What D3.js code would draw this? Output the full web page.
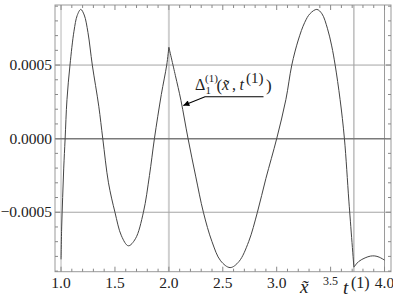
<!DOCTYPE html>
<html>
<head>
<meta charset="utf-8">
<script src="https://cdn.jsdelivr.net/npm/d3@7"></script>
<style>
  body { margin: 0; background: white; }
  svg { display: block; }
  text { font-family: "Liberation Serif", "Times New Roman", serif; fill: #222; }
</style>
</head>
<body>
<svg width="393" height="299"></svg>
<script>

// curve (x~, Delta)
var xs = [1.000, 1.006, 1.015, 1.025, 1.038, 1.055, 1.083, 1.12, 1.15, 1.183, 1.215, 1.25, 1.29, 1.35, 1.387,
  1.44, 1.50, 1.56, 1.624, 1.69, 1.764, 1.82, 1.866, 1.93, 1.98, 2.000,
  2.06, 2.112, 2.178, 2.25, 2.32, 2.40, 2.48, 2.568, 2.65, 2.74, 2.821, 2.90, 3.0, 3.085, 3.14,
  3.20, 3.26, 3.31, 3.372, 3.42, 3.47, 3.51, 3.542, 3.588, 3.628, 3.67, 3.716,
  3.76, 3.82, 3.87, 3.91, 3.95, 4.0];
var ys = [-0.00082, -0.00060, -0.00040, -0.00020, 0.0, 0.000265, 0.00050, 0.00073, 0.000837, 0.000878, 0.00084, 0.00072, 0.00050, 0.00022, 0.0,
  -0.00030, -0.00050, -0.00066, -0.000728, -0.00068, -0.00050, -0.00025, 0.0, 0.00030, 0.00050, 0.000621,
  0.00043, 0.00026, 0.0, -0.00026, -0.00050, -0.00070, -0.00083, -0.000876, -0.000835, -0.00070, -0.00050, -0.00027, 0.0, 0.000265, 0.00050,
  0.00067, 0.00079, 0.00085, 0.000878, 0.000848, 0.00075, 0.00063, 0.00050, 0.000265, 0.0, -0.00043, -0.000873,
  -0.000835, -0.00081, -0.000798, -0.000797, -0.000805, -0.000825];

// points where the curve has a corner
var cusps = [2.0, 3.716];

var xMajor = [1.0, 1.5, 2.0, 2.5, 3.0, 3.5, 4.0];
var xLabels = ["1.0", "1.5", "2.0", "2.5", "3.0", "3.5", "4.0"];
var yMajor = [-0.0005, 0.0, 0.0005];
var yLabels = ["\u22120.0005", "0.0000", "0.0005"];

var xGridLight = [1.0, 2.0];
var xGridDark = [3.716, 4.0];


var svg = d3.select("svg"),
  width = +svg.attr("width"),
  height = +svg.attr("height");

var frameL = 55, frameR = 391, frameT = 5, frameB = 271.7;

var x = d3.scaleLinear().domain([0.944, 4.06]).range([frameL, frameR]);
var y = d3.scaleLinear().domain([-0.000904, 0.000908]).range([frameB, frameT]);

// grid
svg.append("g")
  .selectAll("line")
  .data(xGridLight)
  .enter().append("line")
  .attr("x1", function (d) { return x(d); })
  .attr("x2", function (d) { return x(d); })
  .attr("y1", frameT).attr("y2", frameB)
  .style("stroke", "#cfcfcf")
  .style("stroke-width", function (d, i) { return i == 1 ? 2 : 1.5; });

svg.append("g")
  .selectAll("line")
  .data(xGridDark)
  .enter().append("line")
  .attr("x1", function (d) { return x(d); })
  .attr("x2", function (d) { return x(d); })
  .attr("y1", frameT).attr("y2", frameB)
  .style("stroke", "#9a9a9a")
  .style("stroke-width", 1);

svg.append("g")
  .selectAll("line")
  .data(yMajor)
  .enter().append("line")
  .attr("x1", frameL).attr("x2", frameR)
  .attr("y1", function (d) { return y(d); })
  .attr("y2", function (d) { return y(d); })
  .style("stroke", function (d) { return d == 0 ? "#7a7a7a" : "#a5a5a5"; })
  .style("stroke-width", function (d) { return d == 0 ? 1.5 : 1; });

// frame
svg.append("rect")
  .attr("x", frameL).attr("y", frameT)
  .attr("width", frameR - frameL).attr("height", frameB - frameT)
  .style("fill", "none")
  .style("stroke", "#999")
  .style("stroke-width", 1);

// ticks
var xTicks = d3.range(10, 41).map(function (d) { return d / 10; });
var yTicks = d3.range(-9, 10).map(function (d) { return d / 10000; });
function isMajorX(d) { return Math.abs(d * 2 - Math.round(d * 2)) < 1e-6; }
function isMajorY(d) { return Math.abs(d * 2000 - Math.round(d * 2000)) < 1e-6; }

var ticks = svg.append("g").style("stroke", "#888").style("stroke-width", 1);
[frameB, frameT].forEach(function (yy, k) {
  ticks.selectAll(null)
    .data(xTicks)
    .enter().append("line")
    .attr("x1", function (d) { return x(d); })
    .attr("x2", function (d) { return x(d); })
    .attr("y1", yy)
    .attr("y2", function (d) { var l = isMajorX(d) ? 5 : 3; return k == 0 ? yy - l : yy + l; });
});
[frameL, frameR].forEach(function (xx, k) {
  ticks.selectAll(null)
    .data(yTicks)
    .enter().append("line")
    .attr("y1", function (d) { return y(d); })
    .attr("y2", function (d) { return y(d); })
    .attr("x1", xx)
    .attr("x2", function (d) { var l = isMajorY(d) ? 5 : 3; return k == 0 ? xx + l : xx - l; });
});

// tick labels
svg.append("g")
  .selectAll("text")
  .data(xMajor)
  .enter().append("text")
  .attr("x", function (d) { return x(d); })
  .attr("y", function (d) { return d == 3.5 ? 285 : 288; })
  .attr("text-anchor", "middle")
  .style("font-size", function (d) { return d == 3.5 ? "12px" : "15.5px"; })
  .text(function (d, i) { return xLabels[i]; });

svg.append("g")
  .selectAll("text")
  .data(yMajor)
  .enter().append("text")
  .attr("x", 52)
  .attr("y", function (d) { return y(d) + 5; })
  .attr("text-anchor", "end")
  .style("font-size", "15.5px")
  .text(function (d, i) { return yLabels[i]; });

// the curve, one piece between each corner
var line = d3.line()
  .x(function (d) { return x(d[0]); })
  .y(function (d) { return y(d[1]); })
  .curve(d3.curveCatmullRom.alpha(0.5));

var pts = xs.map(function (d, i) { return [d, ys[i]]; });
var edges = [xs[0]].concat(cusps).concat([xs[xs.length - 1]]);
var pieces = [];
for (var i = 0; i < edges.length - 1; i++) {
  pieces.push(pts.filter(function (p) { return p[0] >= edges[i] && p[0] <= edges[i + 1]; }));
}

svg.append("g")
  .selectAll("path")
  .data(pieces)
  .enter().append("path")
  .attr("d", line)
  .style("fill", "none")
  .style("stroke", "#444")
  .style("stroke-width", 1);

// axis names
svg.append("text")
  .attr("x", 300).attr("y", 293)
  .style("font-size", "19px")
  .style("font-style", "italic")
  .text("x\u0303");

svg.append("text").attr("x", 343).attr("y", 294)
  .style("font-size", "19px").style("font-style", "italic").text("t");
svg.append("text").attr("x", 351).attr("y", 288)
  .style("font-size", "16px").text("(1)");

// annotation
svg.append("defs").append("marker")
  .attr("id", "arrow")
  .attr("viewBox", "0 0 10 10")
  .attr("refX", 10).attr("refY", 5)
  .attr("markerWidth", 9).attr("markerHeight", 6)
  .attr("markerUnits", "userSpaceOnUse")
  .attr("orient", "auto")
  .append("path")
  .attr("d", "M0,0L10,5L0,10z")
  .style("fill", "black");

svg.append("path")
  .attr("d", "M263.5,96.7H205L183.3,105.5")
  .style("fill", "none")
  .style("stroke", "black")
  .style("stroke-width", 1.1)
  .attr("marker-end", "url(#arrow)");

var lab = svg.append("g").style("font-size", "16px");
lab.append("text").attr("x", 195).attr("y", 90).text("\u0394");
lab.append("text").attr("x", 205).attr("y", 82).style("font-size", "11px").text("(1)");
lab.append("text").attr("x", 205.5).attr("y", 94).style("font-size", "11px").text("1");
lab.append("text").attr("x", 216.5).attr("y", 91).style("font-size", "17px").text("(");
lab.append("text").attr("x", 222).attr("y", 90).style("font-style", "italic").text("x\u0303");
lab.append("text").attr("x", 232).attr("y", 90).text(",");
lab.append("text").attr("x", 239.5).attr("y", 90).style("font-style", "italic").text("t");
lab.append("text").attr("x", 246).attr("y", 82.5).style("font-size", "15px").text("(1)");
lab.append("text").attr("x", 266).attr("y", 91).style("font-size", "17px").text(")");

</script>
</body>
</html>
